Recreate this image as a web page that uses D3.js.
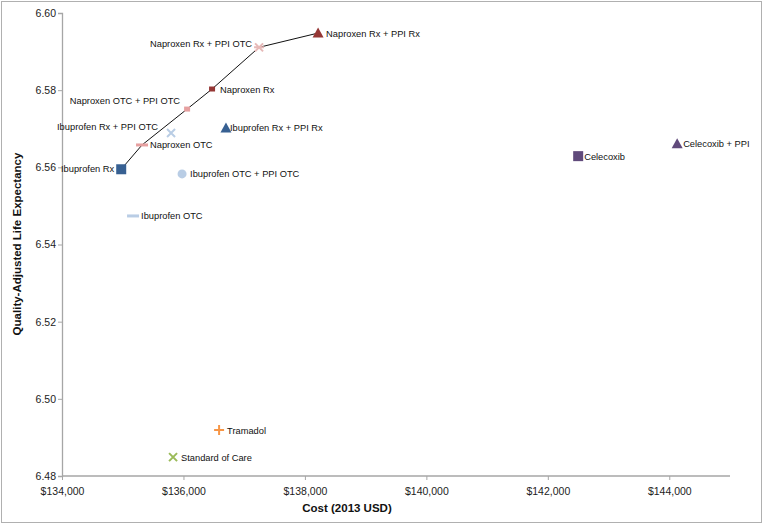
<!DOCTYPE html>
<html><head><meta charset="utf-8">
<script src="https://cdn.jsdelivr.net/npm/d3@7"></script>
<style>body{margin:0;background:#fff;}svg{display:block;font-family:"Liberation Sans",Arial,sans-serif;}</style>
</head><body>
<svg id="c" width="764" height="526"></svg>
<script>
const names = ["Ibuprofen Rx","Ibuprofen OTC","Naproxen OTC","Ibuprofen Rx + PPI OTC","Naproxen OTC + PPI OTC","Naproxen Rx","Naproxen Rx + PPI OTC","Naproxen Rx + PPI Rx","Ibuprofen Rx + PPI Rx","Ibuprofen OTC + PPI OTC","Celecoxib","Celecoxib + PPI","Tramadol","Standard of Care"];
const costs = [134975,135170,135318,135796,136060,136471,137245,138217,136700,135977,142500,144130,136587,135829];
const qales = [6.5595,6.5474,6.5658,6.5689,6.5751,6.5803,6.5911,6.5948,6.5702,6.5583,6.5629,6.5661,6.4919,6.4849];
const shapes = ["square","dash","dash","x","smallsq","smallsq","star","triangle","triangle","circle","square","triangle","plus","x"];
const colors = ["#376092","#b9cde5","#e6a0a0","#b9cde5","#e6a0a0","#953735","#e6b9b8","#953735","#376092","#b9cde5","#604a7b","#604a7b","#f79646","#9bbb59"];
const labelSide = ["left","right","right","left","left","right","left","right","right","right","right","right","right","right"];
const frontier = ["Ibuprofen Rx","Naproxen OTC","Naproxen OTC + PPI OTC","Naproxen Rx","Naproxen Rx + PPI OTC","Naproxen Rx + PPI Rx"];
const xTicks = [134000,136000,138000,140000,142000,144000];
const yTicks = [6.48,6.50,6.52,6.54,6.56,6.58,6.60];

const svg = d3.select("#c");
svg.append("rect").attr("x",1.5).attr("y",1.5).attr("width",760).attr("height",521).attr("fill","#fff").attr("stroke","#b0b0b0");

const x = d3.scaleLinear().domain([134000,145000]).range([62,730]);
const y = d3.scaleLinear().domain([6.48,6.60]).range([476,13]);

const gx = svg.append("g").attr("transform","translate(0,476)")
  .call(d3.axisBottom(x).tickValues(xTicks).tickSize(4).tickFormat(d=>"$"+d3.format(",")(d)));
const gy = svg.append("g").attr("transform","translate(62,0)")
  .call(d3.axisLeft(y).tickValues(yTicks).tickSize(4).tickFormat(d3.format(".2f")));
[gx,gy].forEach(g=>{
  g.select(".domain").attr("stroke","#a6a6a6").attr("stroke-width",1.3);
  g.selectAll(".tick line").attr("stroke","#a6a6a6");
  g.selectAll(".tick text").attr("fill","#222").style("font-size","10.5px");
});
gx.selectAll(".tick text").attr("dy","1.1em");
gy.selectAll(".tick text").attr("x",-6);
gx.selectAll(".domain").attr("d","M62,0H730");

svg.append("text").attr("x",347).attr("y",512).attr("text-anchor","middle")
  .style("font-size","11.5px").style("font-weight","bold").attr("fill","#111").text("Cost (2013 USD)");
svg.append("text").attr("transform","translate(21,244) rotate(-90)").attr("text-anchor","middle")
  .style("font-size","11.5px").style("font-weight","bold").attr("fill","#111").text("Quality-Adjusted Life Expectancy");

const data = names.map((n,i)=>({n,c:costs[i],q:qales[i],s:shapes[i],col:colors[i],side:labelSide[i]}));
const byName = Object.fromEntries(data.map(d=>[d.n,d]));

svg.append("path").datum(frontier.map(n=>byName[n]))
  .attr("fill","none").attr("stroke","#111").attr("stroke-width",1)
  .attr("d",d3.line().x(d=>x(d.c)).y(d=>y(d.q)));

const g = svg.append("g");
data.forEach(d=>{
  const px=x(d.c), py=y(d.q);
  const m = g.append("g").attr("transform",`translate(${px},${py})`);
  if(d.s==="square") m.append("rect").attr("x",-5).attr("y",-5).attr("width",10).attr("height",10).attr("fill",d.col);
  else if(d.s==="smallsq") m.append("rect").attr("x",-3).attr("y",-2.5).attr("width",6).attr("height",5).attr("fill",d.col);
  else if(d.s==="dash") m.append("rect").attr("x",-6).attr("y",-1.5).attr("width",12).attr("height",3).attr("fill",d.col);
  else if(d.s==="triangle") m.append("path").attr("d","M0,-5.5L5.5,4.5L-5.5,4.5Z").attr("fill",d.col);
  else if(d.s==="circle") m.append("circle").attr("r",4.5).attr("fill",d.col);
  else if(d.s==="x") m.append("path").attr("d","M-4,-4L4,4M4,-4L-4,4").attr("stroke",d.col).attr("stroke-width",2);
  else if(d.s==="plus") m.append("path").attr("d","M-5,0H5M0,-5V5").attr("stroke",d.col).attr("stroke-width",2);
  else if(d.s==="star") m.append("path").attr("d","M-4,-4L4,4M4,-4L-4,4M-5,0H5").attr("stroke",d.col).attr("stroke-width",2);
  const t = g.append("text").style("font-size","9.3px").attr("fill","#111").text(d.n);
  if(d.side==="right") t.attr("x",px+8).attr("y",py+3.5);
  else t.attr("text-anchor","end").attr("x",px-7).attr("y",py+1);
});
// adjust specific label offsets to match layout
g.selectAll("text").each(function(){
  const s=d3.select(this), n=s.text();
  if(n==="Naproxen OTC + PPI OTC"){ s.attr("y",+s.attr("y")-6); }
  if(n==="Ibuprofen Rx + PPI OTC"){ s.attr("y",+s.attr("y")-4).attr("x",+s.attr("x")-6); }
  if(n==="Naproxen Rx + PPI OTC"){ s.attr("y",+s.attr("y")-1); }
  if(n==="Ibuprofen Rx"){ s.attr("y",+s.attr("y")+2); }
  if(n==="Ibuprofen Rx + PPI Rx"){ s.attr("x",+s.attr("x")-4); }
  if(n==="Celecoxib + PPI"||n==="Celecoxib"){ s.attr("x",+s.attr("x")-2); }
});
</script>
</body></html>
